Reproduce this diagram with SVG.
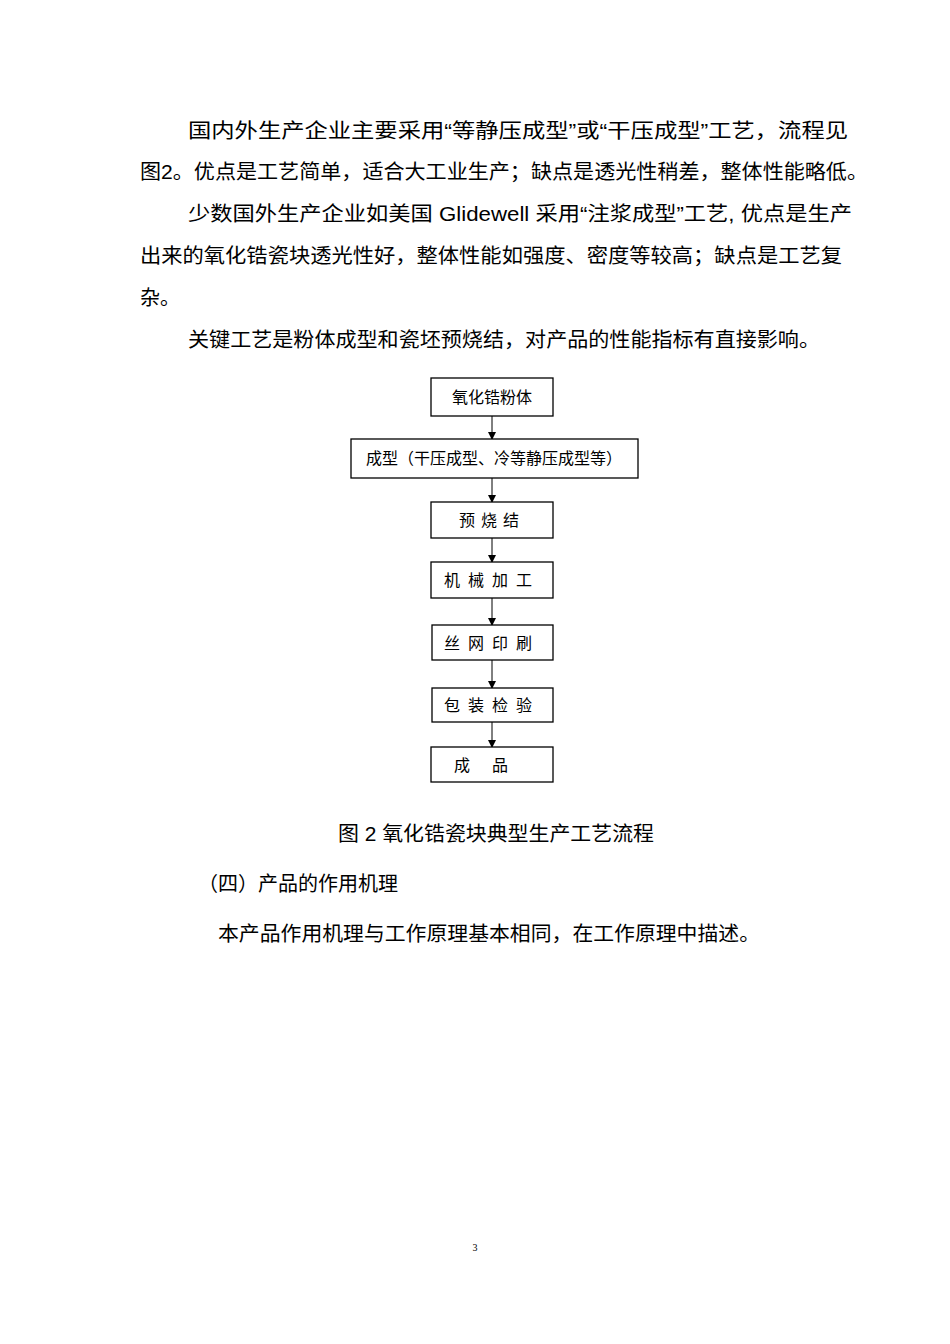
<svg xmlns="http://www.w3.org/2000/svg" width="950" height="1344" viewBox="0 0 950 1344">
<style>
.t{font-family:"Liberation Sans","Noto Sans CJK SC",sans-serif;font-size:20px;fill:#000}
.b{fill:#fff;stroke:#000;stroke-width:1.3}
.n{font-family:"Noto Sans CJK SC",sans-serif;font-size:16px;fill:#000;text-anchor:middle}
.c{stroke:#000;stroke-width:1;fill:none}
</style>
<defs><marker id="a" markerWidth="8" markerHeight="8" refX="7" refY="4" orient="auto" markerUnits="userSpaceOnUse"><path d="M0,0L8,4L0,8z" fill="#000"/></marker></defs>
<rect width="950" height="1344" fill="#fff"/>
<text class="t" x="188" y="138" textLength="660" lengthAdjust="spacingAndGlyphs">国内外生产企业主要采用“等静压成型”或“干压成型”工艺，流程见</text>
<text class="t" x="140" y="179" textLength="728" lengthAdjust="spacingAndGlyphs">图2。优点是工艺简单，适合大工业生产；缺点是透光性稍差，整体性能略低。</text>
<text class="t" x="188" y="221" textLength="664" lengthAdjust="spacingAndGlyphs">少数国外生产企业如美国 Glidewell 采用“注浆成型”工艺, 优点是生产</text>
<text class="t" x="140" y="263" textLength="702" lengthAdjust="spacingAndGlyphs">出来的氧化锆瓷块透光性好，整体性能如强度、密度等较高；缺点是工艺复</text>
<text class="t" x="140" y="305">杂。</text>
<text class="t" x="188" y="347" textLength="632" lengthAdjust="spacingAndGlyphs">关键工艺是粉体成型和瓷坯预烧结，对产品的性能指标有直接影响。</text>
<g id="connectors">
<line class="c" x1="492" y1="416" x2="492" y2="439" marker-end="url(#a)"/>
<line class="c" x1="492" y1="478" x2="492" y2="502" marker-end="url(#a)"/>
<line class="c" x1="492" y1="538" x2="492" y2="562" marker-end="url(#a)"/>
<line class="c" x1="492" y1="598" x2="492" y2="625" marker-end="url(#a)"/>
<line class="c" x1="492" y1="660" x2="492" y2="688" marker-end="url(#a)"/>
<line class="c" x1="492" y1="722" x2="492" y2="747" marker-end="url(#a)"/>
</g>
<g id="n1"><rect class="b" x="431" y="378" width="122" height="38"/><text class="n" x="492" y="403">氧化锆粉体</text></g>
<g id="n2"><rect class="b" x="351" y="439" width="287" height="39"/><text class="n" x="494" y="464">成型（干压成型、冷等静压成型等）</text></g>
<g id="n3"><rect class="b" x="431" y="502" width="122" height="36"/><text class="n" x="492" y="526" letter-spacing="6">预烧结</text></g>
<g id="n4"><rect class="b" x="431" y="562" width="122" height="36"/><text class="n" x="492" y="586" letter-spacing="8">机械加工</text></g>
<g id="n5"><rect class="b" x="432" y="625" width="121" height="35"/><text class="n" x="492" y="649" letter-spacing="8">丝网印刷</text></g>
<g id="n6"><rect class="b" x="432" y="688" width="121" height="34"/><text class="n" x="492" y="711" letter-spacing="8">包装检验</text></g>
<g id="n7"><rect class="b" x="431" y="747" width="122" height="35"/><text class="n" x="492" y="771" letter-spacing="22">成品</text></g>
<text class="t" x="338" y="841" textLength="316" lengthAdjust="spacingAndGlyphs">图 2 氧化锆瓷块典型生产工艺流程</text>
<text class="t" x="198" y="891">（四）产品的作用机理</text>
<text class="t" x="218" y="941" textLength="542" lengthAdjust="spacingAndGlyphs">本产品作用机理与工作原理基本相同，在工作原理中描述。</text>
<text x="475" y="1251" font-family="Liberation Serif,serif" font-size="10" text-anchor="middle">3</text>
</svg>
